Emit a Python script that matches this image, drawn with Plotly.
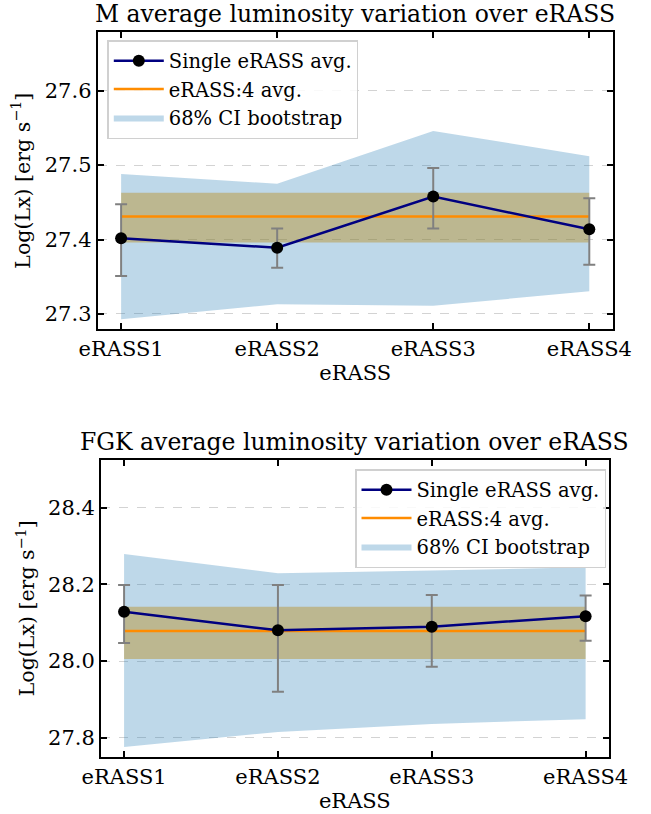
import plotly.graph_objects as go

categories = ["eRASS1", "eRASS2", "eRASS3", "eRASS4"]

# M stars
m_avg = [27.4017, 27.389, 27.4577, 27.4138]
m_err_hi = [27.4474, 27.415, 27.496, 27.4555]
m_err_lo = [27.351, 27.362, 27.4147, 27.366]
m_ci_hi = [27.488, 27.475, 27.546, 27.512]
m_ci_lo = [27.293, 27.313, 27.311, 27.3305]
m_all = 27.431
m_all_hi = 27.463
m_all_lo = 27.396

# FGK stars
f_avg = [28.1286, 28.080, 28.0895, 28.117]
f_err_hi = [28.198, 28.198, 28.172, 28.171]
f_err_lo = [28.047, 27.920, 27.985, 28.053]
f_ci_hi = [28.279, 28.229, 28.236, 28.2445]
f_ci_lo = [27.776, 27.815, 27.836, 27.848]
f_all = 28.078
f_all_hi = 28.1417
f_all_lo = 28.005

m_yticks = [27.3, 27.4, 27.5, 27.6]
f_yticks = [27.8, 28.0, 28.2, 28.4]

W, H = 651, 814
FONT = "DejaVu Serif"
TICK = 21
xpos = list(range(len(categories)))

fig = go.Figure()


def add_panel(ax, leg, avg, ehi, elo, cihi, cilo, a, ahi, alo):
    xa = "x" if ax == 1 else "x2"
    ya = "y" if ax == 1 else "y2"
    # CI fill
    fig.add_trace(go.Scatter(x=xpos, y=cilo, mode="lines", line=dict(width=0),
                             showlegend=False, hoverinfo="skip", xaxis=xa, yaxis=ya))
    fig.add_trace(go.Scatter(x=xpos, y=cihi, mode="lines", line=dict(width=0),
                             fill="tonexty", fillcolor="rgba(31,119,180,0.29)",
                             name="68% CI bootstrap", legend=leg, legendrank=3,
                             xaxis=xa, yaxis=ya))
    # eRASS:4 band
    xb = [xpos[0], xpos[-1]]
    fig.add_trace(go.Scatter(x=xb, y=[alo, alo], mode="lines", line=dict(width=0),
                             showlegend=False, hoverinfo="skip", xaxis=xa, yaxis=ya))
    fig.add_trace(go.Scatter(x=xb, y=[ahi, ahi], mode="lines", line=dict(width=0),
                             fill="tonexty", fillcolor="rgba(184,134,11,0.4)",
                             showlegend=False, hoverinfo="skip", xaxis=xa, yaxis=ya))
    fig.add_trace(go.Scatter(x=xb, y=[a, a], mode="lines",
                             line=dict(color="#FF8C00", width=2.5),
                             name="eRASS:4 avg.", legend=leg, legendrank=2,
                             xaxis=xa, yaxis=ya))
    # single eRASS averages
    fig.add_trace(go.Scatter(
        x=xpos, y=avg, mode="lines+markers",
        line=dict(color="#000080", width=2.5),
        marker=dict(color="black", size=12),
        error_y=dict(type="data", symmetric=False,
                     array=[h - v for h, v in zip(ehi, avg)],
                     arrayminus=[v - l for v, l in zip(avg, elo)],
                     color="gray", thickness=2, width=6),
        name="Single eRASS avg.", legend=leg, legendrank=1,
        xaxis=xa, yaxis=ya))


add_panel(1, "legend", m_avg, m_err_hi, m_err_lo, m_ci_hi, m_ci_lo, m_all, m_all_hi, m_all_lo)
add_panel(2, "legend2", f_avg, f_err_hi, f_err_lo, f_ci_hi, f_ci_lo, f_all, f_all_hi, f_all_lo)

axis_common = dict(showline=True, linecolor="black", linewidth=2, mirror="allticks",
                   ticks="inside", ticklen=6, tickwidth=1.5, tickcolor="black",
                   tickfont=dict(family=FONT, size=TICK, color="black"), zeroline=False,
                   automargin=False)

legend_common = dict(bgcolor="rgba(255,255,255,0.85)", bordercolor="#d0d0d0", borderwidth=1.5,
                     font=dict(family=FONT, size=19.5), traceorder="normal", itemwidth=50,
                     tracegroupgap=0)

fig.update_layout(
    width=W, height=H, margin=dict(l=0, r=0, t=0, b=0),
    plot_bgcolor="white", paper_bgcolor="white",
    font=dict(family=FONT, color="black"),
    xaxis=dict(domain=[97.7 / W, 612.7 / W], range=[-0.15, 3.15], tickvals=xpos,
               ticktext=categories, showgrid=False, anchor="y",
               title=dict(text="eRASS", font=dict(family=FONT, size=TICK), standoff=2),
               **axis_common),
    yaxis=dict(domain=[1 - 329 / H, 1 - 32.3 / H], range=[27.2798, 27.6785], tickvals=m_yticks,
               tickformat=".1f", showgrid=True, gridcolor="#d3d3d3", griddash="dash",
               gridwidth=1, anchor="x", **axis_common),
    xaxis2=dict(domain=[101 / W, 608.7 / W], range=[-0.15, 3.15], tickvals=xpos,
                ticktext=categories, showgrid=False, anchor="y2",
                title=dict(text="eRASS", font=dict(family=FONT, size=TICK), standoff=2),
                **axis_common),
    yaxis2=dict(domain=[1 - 756.7 / H, 1 - 460 / H], range=[27.7504, 28.5244], tickvals=f_yticks,
                tickformat=".1f", showgrid=True, gridcolor="#d3d3d3", griddash="dash",
                gridwidth=1, anchor="x2", **axis_common),
    legend=dict(x=107.3 / W, y=1 - 40 / H, xanchor="left", yanchor="top", **legend_common),
    legend2=dict(x=606 / W, y=1 - 469 / H, xanchor="right", yanchor="top", **legend_common),
    annotations=[
        dict(text="M average luminosity variation over eRASS", x=355.2 / W, y=1 - 14 / H,
             xref="paper", yref="paper", showarrow=False, xanchor="center", yanchor="middle",
             font=dict(family=FONT, size=23.5)),
        dict(text="FGK average luminosity variation over eRASS", x=354.8 / W, y=1 - 442 / H,
             xref="paper", yref="paper", showarrow=False, xanchor="center", yanchor="middle",
             font=dict(family=FONT, size=23.5)),
        dict(text="Log(Lx) [erg s<sup>\u22121</sup>]", x=22 / W, y=1 - 180.7 / H,
             xref="paper", yref="paper", showarrow=False, textangle=-90,
             xanchor="center", yanchor="middle", font=dict(family=FONT, size=20.5)),
        dict(text="Log(Lx) [erg s<sup>\u22121</sup>]", x=26 / W, y=1 - 608.3 / H,
             xref="paper", yref="paper", showarrow=False, textangle=-90,
             xanchor="center", yanchor="middle", font=dict(family=FONT, size=20.5)),
    ],
)

fig.write_html("out.html")
